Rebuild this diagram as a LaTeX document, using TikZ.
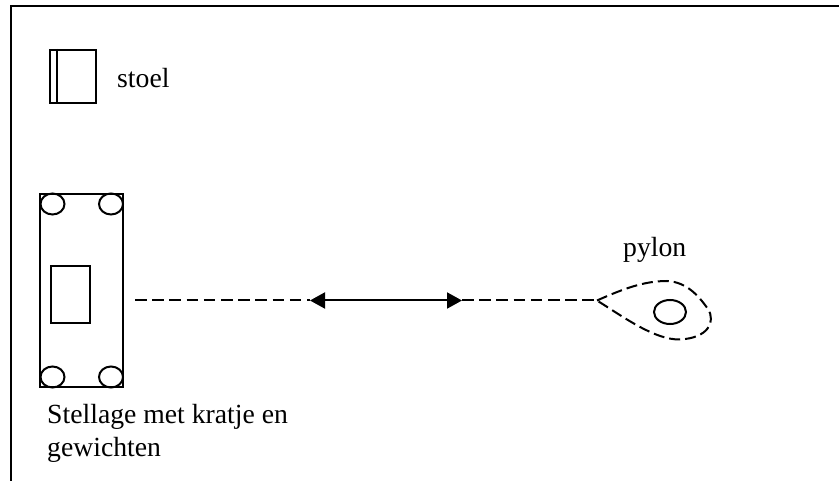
\documentclass[tikz,border=0pt]{standalone}
\usepackage{fontspec}
\setmainfont{Liberation Serif}
\usetikzlibrary{shapes.geometric, arrows.meta, positioning}
\tikzset{
    outline/.style={draw, line width=2pt, inner sep=0pt},
    wheel/.style={draw, ellipse, line width=2pt, inner sep=0pt, minimum width=24pt, minimum height=21pt},
    label/.style={inner sep=0pt, font=\fontsize{27.7}{33}\selectfont, align=left},
    dashline/.style={line width=2pt, dash pattern=on 11.5pt off 5.7pt},
    solidarrow/.style={line width=2pt, {Triangle[length=15pt,width=16pt]}-{Triangle[length=15pt,width=16pt]}}
}
\begin{document}
\begin{tikzpicture}[x=1pt, y=-1pt]
    \useasboundingbox (0,0) rectangle (839,481);

    % Frame
    \coordinate (framebottom) at (11,481);
    \coordinate (framecorner) at (11,6.2);
    \coordinate (frameright) at (839,6.2);
    \draw[line width=2.2pt] (framebottom) -- (framecorner) -- (frameright);

    % Chair
    \node[outline, minimum width=46pt, minimum height=53pt] (stoel) at (73.3,76.5) {};
    \draw[line width=2pt] ([xshift=8pt]stoel.north west) -- ([xshift=8pt]stoel.south west);
    \node[label, anchor=base west] (stoellabel) at (117,88) {stoel};

    % Rack
    \node[outline, minimum width=83pt, minimum height=193pt] (stellage) at (81.5,290.5) {};
    \node[outline, minimum width=39pt, minimum height=57pt] (kratje) at (70,294.5) {};
    \node[wheel] (wheelnw) at (52.5,204) {};
    \node[wheel] (wheelne) at (111,204) {};
    \node[wheel] (wheelsw) at (52.5,377) {};
    \node[wheel] (wheelse) at (111,377) {};
    \node[label, anchor=north west] (stellagelabel) at (47,404) {Stellage met kratje en\\gewichten};

    % Pylon
    \node[wheel, minimum width=32pt, minimum height=24pt] (pylon) at (670,312) {};
    \node[label, anchor=base west] (pylonlabel) at (623,257) {pylon};
    \coordinate (tip) at (597,300.5);
    \draw[dashline, dash pattern=on 11pt off 5pt] (tip)
        .. controls (625,288) and (645,281) .. (667,281)
        .. controls (688,282) and (700,298) .. (708,309)
        .. controls (716,322) and (708,338) .. (680,339.5)
        .. controls (655,340) and (625,318) .. cycle;

    % Distance line
    \coordinate (dashstart) at (135,300.5);
    \coordinate (arrowleft) at (310,300.5);
    \coordinate (arrowright) at (462,300.5);
    \draw[dashline] (dashstart) -- (arrowleft);
    \draw[dashline] (arrowright) -- (tip);
    \draw[solidarrow] (arrowleft) -- (arrowright);
\end{tikzpicture}
\end{document}
